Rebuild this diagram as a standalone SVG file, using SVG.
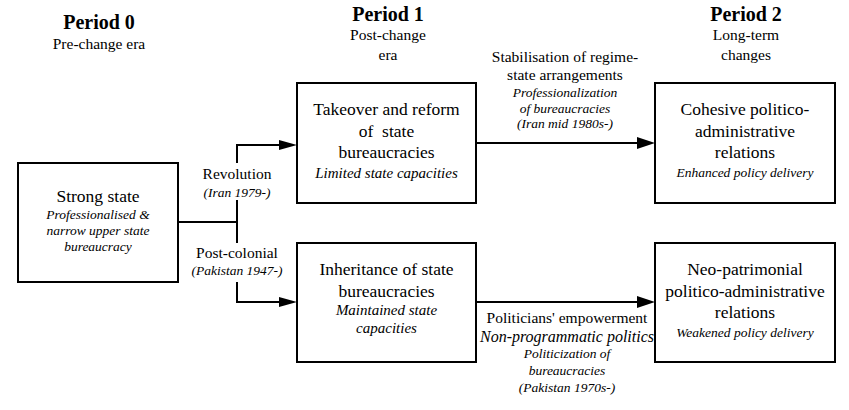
<svg xmlns="http://www.w3.org/2000/svg" width="849" height="410" viewBox="0 0 849 410">
<style>
text{font-family:'Liberation Serif','DejaVu Serif',serif;fill:#000;text-anchor:middle}
.h{font-size:20px;font-weight:bold}
.s{font-size:15.5px}
.m{font-size:17.5px}
.i{font-style:italic;font-size:15px}
.si{font-style:italic;font-size:13.5px}
.box{fill:#fff;stroke:#000;stroke-width:2}
.ln{fill:none;stroke:#000;stroke-width:2}
.ah{fill:#000}
</style>
<rect width="849" height="410" fill="#fff"/>
<g id="headers">
<text class="h" x="99" y="29">Period 0</text>
<text class="s" x="99" y="49">Pre-change era</text>
<text class="h" x="388" y="21">Period 1</text>
<text class="s" x="388" y="40">Post-change</text>
<text class="s" x="388" y="60">era</text>
<text class="h" x="746" y="21">Period 2</text>
<text class="s" x="746" y="40">Long-term</text>
<text class="s" x="746" y="60">changes</text>
</g>
<g id="connectors">
<path class="ln" d="M178,222 H237"/>
<path class="ln" d="M237,163 V145 H280"/>
<path class="ln" d="M237,200 V243"/>
<path class="ln" d="M237,282 V302 H280"/>
<path class="ah" d="M279,140 L297,145 L279,150 z"/>
<path class="ah" d="M279,297 L297,302 L279,307 z"/>
<path class="ln" d="M476,143 H638"/>
<path class="ah" d="M637,137 L655,143 L637,149 z"/>
<path class="ln" d="M476,302 H638"/>
<path class="ah" d="M637,296 L655,302 L637,308 z"/>
<text class="s" x="237" y="179">Revolution</text>
<text class="si" x="237" y="197">(Iran 1979-)</text>
<text class="s" x="237" y="258">Post-colonial</text>
<text class="si" x="237" y="275">(Pakistan 1947-)</text>
<text class="s" x="565" y="62">Stabilisation of regime-</text>
<text class="s" x="565" y="80">state arrangements</text>
<text class="si" x="565" y="97">Professionalization</text>
<text class="si" x="565" y="113">of bureaucracies</text>
<text class="si" x="565" y="128">(Iran mid 1980s-)</text>
<text class="s" x="567" y="323">Politicians' empowerment</text>
<text class="i" x="567" y="342" style="font-size:16px">Non-programmatic politics</text>
<text class="si" x="567" y="358">Politicization of</text>
<text class="si" x="567" y="375">bureaucracies</text>
<text class="si" x="567" y="392">(Pakistan 1970s-)</text>
</g>
<g id="strong">
<rect class="box" x="18" y="163" width="160" height="119"/>
<text class="m" x="98" y="202">Strong state</text>
<text class="si" x="98" y="219">Professionalised &amp;</text>
<text class="si" x="98" y="235">narrow upper state</text>
<text class="si" x="98" y="251">bureaucracy</text>
</g>
<g id="takeover">
<rect class="box" x="297" y="83" width="179" height="120"/>
<text class="m" x="386.5" y="115">Takeover and reform</text>
<text class="m" x="386.5" y="137" xml:space="preserve">of  state</text>
<text class="m" x="386.5" y="158">bureaucracies</text>
<text class="i" x="386.5" y="178">Limited state capacities</text>
</g>
<g id="inheritance">
<rect class="box" x="297" y="243" width="179" height="119"/>
<text class="m" x="386.5" y="275">Inheritance of state</text>
<text class="m" x="386.5" y="297">bureaucracies</text>
<text class="i" x="386.5" y="315">Maintained state</text>
<text class="i" x="386.5" y="333">capacities</text>
</g>
<g id="cohesive">
<rect class="box" x="655" y="83" width="180" height="120"/>
<text class="m" x="745" y="115">Cohesive politico-</text>
<text class="m" x="745" y="137">administrative</text>
<text class="m" x="745" y="158">relations</text>
<text class="si" x="745" y="177">Enhanced policy delivery</text>
</g>
<g id="neo">
<rect class="box" x="655" y="243" width="180" height="119"/>
<text class="m" x="745" y="275">Neo-patrimonial</text>
<text class="m" x="745" y="297">politico-administrative</text>
<text class="m" x="745" y="318">relations</text>
<text class="si" x="745" y="337">Weakened policy delivery</text>
</g>
</svg>
